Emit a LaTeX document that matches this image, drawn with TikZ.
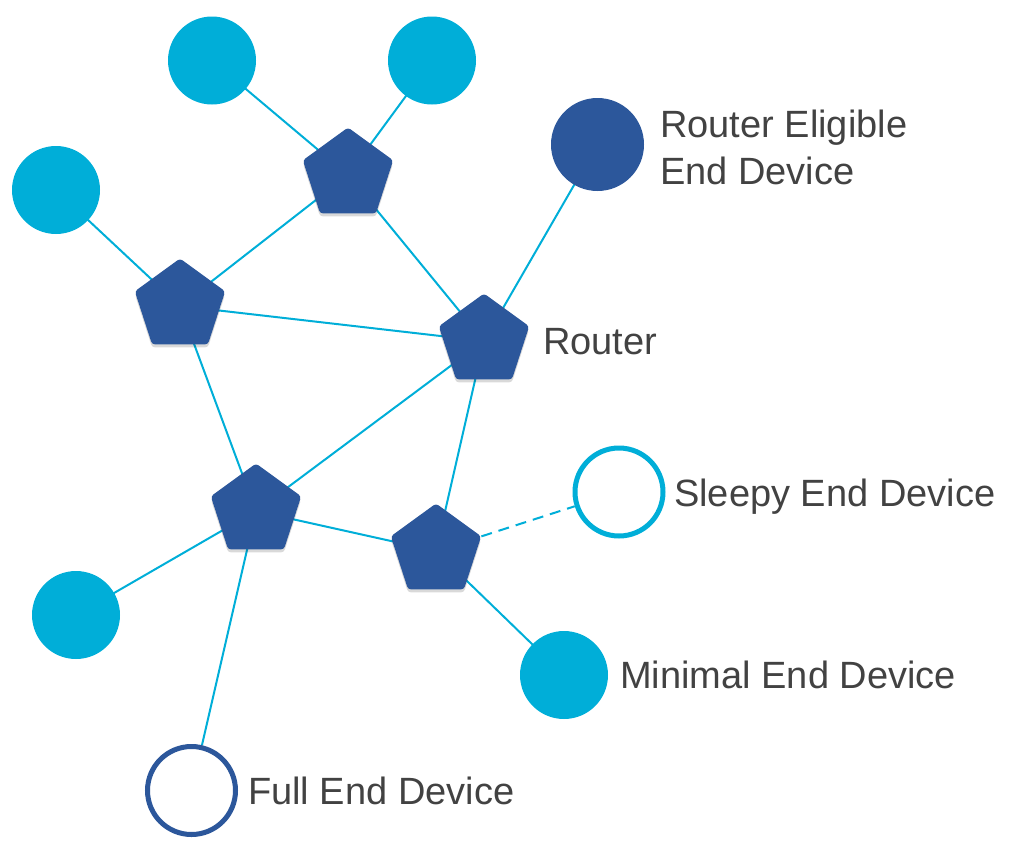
\documentclass[tikz,border=0pt]{standalone}
\usepackage{fontspec}
\setmainfont{Liberation Sans}
\usetikzlibrary{shapes.geometric,shadows,backgrounds}
\definecolor{lblue}{RGB}{0,174,216}
\definecolor{dblue}{RGB}{44,87,155}
\definecolor{txt}{RGB}{66,66,66}
\begin{document}
\begin{tikzpicture}[x=1pt,y=-1pt,
  pent/.style={regular polygon,regular polygon sides=5,minimum size=95pt,inner sep=0pt,
     fill=dblue,rounded corners=3pt,
     drop shadow={shadow xshift=0pt,shadow yshift=-3pt,opacity=0.15,fill=black}},
  med/.style={circle,fill=lblue,minimum size=88pt,inner sep=0pt},
  reed/.style={circle,fill=dblue,minimum size=93pt,inner sep=0pt},
  sed/.style={circle,draw=lblue,line width=5pt,fill=white,minimum size=88pt,inner sep=0pt},
  fed/.style={circle,draw=dblue,line width=5pt,fill=white,minimum size=88pt,inner sep=0pt},
  link/.style={draw=lblue,line width=2pt},
  dlink/.style={draw=lblue,line width=2pt,dash pattern=on 11pt off 7pt},
  lbl/.style={anchor=base west,inner sep=0pt,text=txt,font=\fontsize{38}{47}\selectfont,align=left}]
\useasboundingbox (0,0) rectangle (1010,852);

% nodes
\node[med] (c1) at (212,60.5) {};
\node[med] (c2) at (432,60.5) {};
\node[med] (c3) at (56,190) {};
\node[med] (c4) at (76,615) {};
\node[med] (mn) at (564,675) {};
\node[reed] (re) at (597.5,144.5) {};
\node[sed] (sl) at (619,492) {};
\node[fed] (fu) at (191.5,790.5) {};

\node[pent] (p1) at (348,175) {};
\node[pent] (p2) at (180,306) {};
\node[pent] (p3) at (484,341) {};
\node[pent] (p4) at (256,511) {};
\node[pent] (p5) at (436,551) {};

% connectors
\begin{scope}[on background layer]
\draw[link] (c1.center) -- (p1.center);
\draw[link] (c2.center) -- (p1.center);
\draw[link] (p1.center) -- (p2.center);
\draw[link] (p1.center) -- (p3.center);
\draw[link] (c3.center) -- (p2.center);
\draw[link] (p2.center) -- (p3.center);
\draw[link] (p2.center) -- (p4.center);
\draw[link] (p3.center) -- (p4.center);
\draw[link] (p3.center) -- (p5.center);
\draw[link] (re.center) -- (p3.center);
\draw[link] (p4.center) -- (p5.center);
\draw[link] (p4.center) -- (c4.center);
\draw[link] (p4.center) -- (fu);
\draw[link] (p5.center) -- (mn.center);
\draw[dlink] (p5) -- (sl);
\end{scope}

% labels
\node[lbl] (tre) at (660,184) {Router Eligible\\End Device};
\node[lbl] (tro) at (543,354) {Router};
\node[lbl] (tsl) at (674,506) {Sleepy End Device};
\node[lbl] (tmn) at (620,688) {Minimal End Device};
\node[lbl] (tfu) at (248,804) {Full End Device};
\end{tikzpicture}
\end{document}
